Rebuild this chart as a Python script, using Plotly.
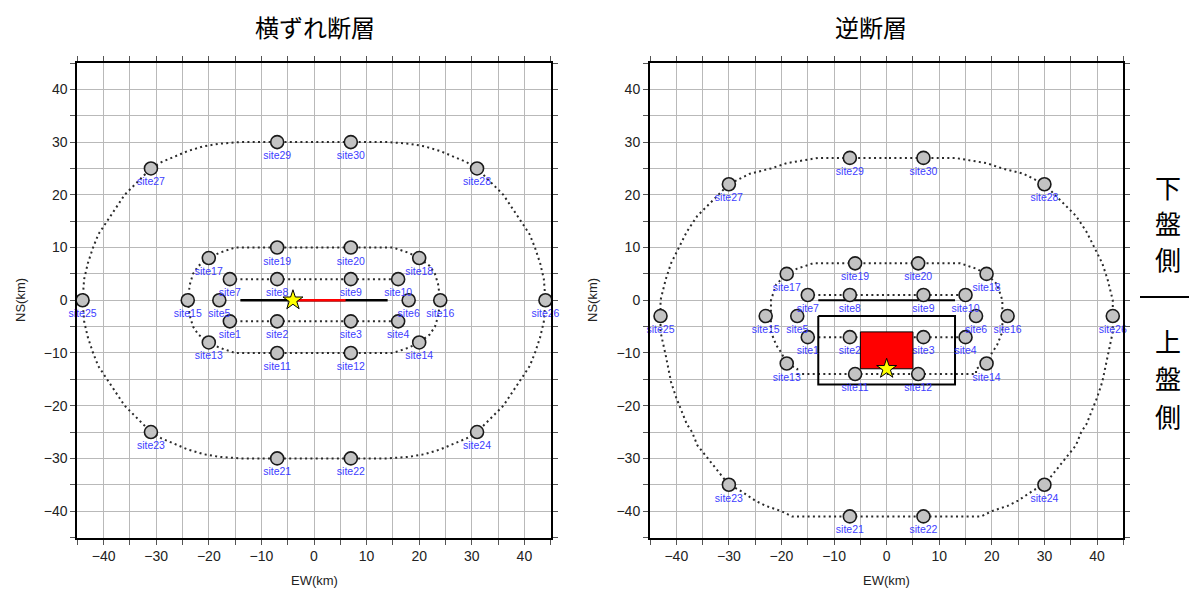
import plotly.graph_objects as go

# page body has an 8px margin, so the figure is drawn 8px smaller and offset
OFF = 8
W, H = 1197 - OFF, 596 - OFF

# ---------------- data ----------------
site_names = [f"site{i}" for i in range(1, 31)]

# strike-slip (横ずれ断層) site coordinates (km)
ss_x = [-16, -7, 7, 16, -18, 18, -16, -7, 7, 16, -7, 7, -20, 20, -24, 24,
        -20, 20, -7, 7, -7, 7, -31, 31, -44, 44, -31, 31, -7, 7]
ss_y = [-4, -4, -4, -4, 0, 0, 4, 4, 4, 4, -10, -10, -8, -8, 0, 0,
        8, 8, 10, 10, -30, -30, -25, -25, 0, 0, 25, 25, 30, 30]

# reverse fault (逆断層) site coordinates (km)
rv_x = [-15, -7, 7, 15, -17, 17, -15, -7, 7, 15, -6, 6, -19, 19, -23, 23,
        -19, 19, -6, 6, -7, 7, -30, 30, -43, 43, -30, 30, -7, 7]
rv_y = [-7, -7, -7, -7, -3, -3, 1, 1, 1, 1, -14, -14, -12, -12, -3, -3,
        5, 5, 7, 7, -41, -41, -35, -35, -3, -3, 22, 22, 27, 27]

# strike-slip fault trace and rupture segment
ss_fault_x = [-14, 14]
ss_fault_y = [0, 0]
ss_rupture_x = [-4, 6]
ss_rupture_y = [0, 0]
ss_epi_x = [-4]
ss_epi_y = [0]

# reverse fault: plane projection, top edge, asperity, hypocentre
rv_plane_x = [-13, 13]
rv_plane_y = [-16, -3]
rv_top_x = [-13, 13]
rv_top_y = [0, 0]
rv_asp_x = [-5, 5]
rv_asp_y = [-13, -6]
rv_epi_x = [0]
rv_epi_y = [-13]

# dotted contours (upper-left quarter)
ss_out_qx = [-44, -43.7, -43, -42, -41, -40, -38, -36, -34, -31, -29, -27, -24, -21, -18, -14, 0]
ss_out_qy = [0, 4, 7, 10, 12.5, 14, 17, 20, 22, 25, 26.2, 27, 28.3, 29.2, 29.7, 30, 30]
ss_mid_qx = [-24, -23.6, -23, -22, -20, -18, -15, 0]
ss_mid_qy = [0, 3, 5, 6.5, 8, 9, 10, 10]
ss_in_x = [-16, 16, None, -16, 16]
ss_in_y = [4, 4, None, -4, -4]

# reverse-fault contours (left half, top centre -> bottom centre)
rv_out_hx = [0, -13, -19, -22, -26, -28, -30, -33, -36, -38, -40, -41, -42, -43, -43, -43,
             -42, -41, -40, -39, -38, -37, -36, -34, -30, -28, -25, -23, -20, -18, -7, 0]
rv_out_hy = [27, 27, 26, 25, 24, 23, 22, 19, 16, 13, 9, 7, 4, 0, -3, -6,
             -10.5, -15.5, -18.5, -21, -23.5, -25, -27.5, -30, -35, -36, -38, -39, -40, -41, -41, -41]
rv_mid_hx = [0, -14, -17, -19, -21, -22, -22, -22, -21, -20, -19, -17, -17, 0]
rv_mid_hy = [7, 7, 6, 5, 3, 0, -3, -6, -8.5, -10, -12, -13, -14, -14]
rv_in_x = [-15, 15, None, -15, 15]
rv_in_y = [1, 1, None, -7, -7]

tick_vals = list(range(-45, 46, 5))
tick_text = [(("\u2212" + str(-v)) if v < 0 else str(v)) if v % 10 == 0 else "" for v in tick_vals]


def full_loop(qx, qy):
    # quarter -> closed loop by mirroring
    upper_x = qx + [-v for v in reversed(qx)]
    upper_y = qy + list(reversed(qy))
    lower_x = list(reversed(upper_x))
    lower_y = [-v for v in reversed(upper_y)]
    return upper_x + lower_x, upper_y + lower_y


def half_loop(hx, hy):
    return hx + [-v for v in reversed(hx)], hy + list(reversed(hy))


def rect(xs, ys):
    return [xs[0], xs[1], xs[1], xs[0], xs[0]], [ys[1], ys[1], ys[0], ys[0], ys[1]]


DOT = dict(color="#2a2a2a", width=2, dash="2px,3.3px")
fig = go.Figure()


def add_dotted(x, y, xa, ya):
    fig.add_trace(go.Scatter(x=x, y=y, mode="lines", line=DOT, xaxis=xa, yaxis=ya,
                             hoverinfo="skip", showlegend=False))


def add_sites(x, y, xa, ya):
    fig.add_trace(go.Scatter(
        x=x, y=y, mode="markers+text", text=site_names, textposition="bottom center",
        textfont=dict(family="Liberation Sans", size=10.5, color="#3d3dff"),
        marker=dict(size=13, color="#c3c3c3", line=dict(color="#1a1a1a", width=1.6)),
        cliponaxis=False,
        xaxis=xa, yaxis=ya, showlegend=False, hoverinfo="skip"))


def add_star(x, y, xa, ya):
    fig.add_trace(go.Scatter(x=x, y=y, mode="markers",
                             marker=dict(symbol="star", size=15, color="#ffff00",
                                         line=dict(color="black", width=1)),
                             xaxis=xa, yaxis=ya, showlegend=False, hoverinfo="skip"))


# ---------- left panel ----------
for qx, qy in [(ss_out_qx, ss_out_qy), (ss_mid_qx, ss_mid_qy)]:
    lx, ly = full_loop(qx, qy)
    add_dotted(lx, ly, "x", "y")
add_dotted(ss_in_x, ss_in_y, "x", "y")
fig.add_trace(go.Scatter(x=ss_fault_x, y=ss_fault_y, mode="lines",
                         line=dict(color="black", width=2.5), xaxis="x", yaxis="y",
                         showlegend=False, hoverinfo="skip"))
fig.add_trace(go.Scatter(x=ss_rupture_x, y=ss_rupture_y, mode="lines",
                         line=dict(color="#ff0000", width=2.5), xaxis="x", yaxis="y",
                         showlegend=False, hoverinfo="skip"))
add_sites(ss_x, ss_y, "x", "y")
add_star(ss_epi_x, ss_epi_y, "x", "y")

# ---------- right panel ----------
for hx, hy in [(rv_out_hx, rv_out_hy), (rv_mid_hx, rv_mid_hy)]:
    lx, ly = half_loop(hx, hy)
    add_dotted(lx, ly, "x2", "y2")
add_dotted(rv_in_x, rv_in_y, "x2", "y2")
px_, py_ = rect(rv_plane_x, rv_plane_y)
fig.add_trace(go.Scatter(x=px_, y=py_, mode="lines", line=dict(color="black", width=2),
                         xaxis="x2", yaxis="y2", showlegend=False, hoverinfo="skip"))
fig.add_trace(go.Scatter(x=rv_top_x, y=rv_top_y, mode="lines", line=dict(color="black", width=2),
                         xaxis="x2", yaxis="y2", showlegend=False, hoverinfo="skip"))
add_sites(rv_x, rv_y, "x2", "y2")
ax_, ay_ = rect(rv_asp_x, rv_asp_y)
fig.add_trace(go.Scatter(x=ax_, y=ay_, mode="lines", fill="toself", fillcolor="#ff0000",
                         line=dict(color="black", width=1), xaxis="x2", yaxis="y2",
                         showlegend=False, hoverinfo="skip"))
add_star(rv_epi_x, rv_epi_y, "x2", "y2")


# ---------- axes ----------
def px_x(p):
    return (p - OFF) / W


def px_y(p):
    return 1 - (p - OFF) / H


ax_common = dict(range=[-45, 45], tickmode="array", tickvals=tick_vals, ticktext=tick_text,
                 showgrid=True, gridcolor="#b9b9b9", gridwidth=1, zeroline=False,
                 showline=True, linecolor="black", linewidth=2, mirror="ticks",
                 ticks="outside", ticklen=5, tickwidth=1, tickcolor="#555",
                 tickfont=dict(family="Liberation Sans", size=14, color="#222"),
                 fixedrange=True)

ydom = [px_y(537.5), px_y(63)]
fig.update_layout(
    width=W, height=H, autosize=False,
    margin=dict(l=0, r=0, t=0, b=0),
    paper_bgcolor="white", plot_bgcolor="white",
    xaxis=dict(domain=[px_x(77.3), px_x(550.7)], anchor="y", **ax_common),
    yaxis=dict(domain=ydom, anchor="x", **ax_common),
    xaxis2=dict(domain=[px_x(650), px_x(1123.3)], anchor="y2", **ax_common),
    yaxis2=dict(domain=ydom, anchor="x2", **ax_common),
    showlegend=False,
)

ann = []
jp = "Noto Sans CJK JP"
ann.append(dict(x=px_x(315), y=px_y(26), text="横ずれ断層", borderpad=0, height=30,
                font=dict(family=jp, size=24, color="black")))
ann.append(dict(x=px_x(871), y=px_y(26), text="逆断層", borderpad=0, height=30,
                font=dict(family=jp, size=24, color="black")))
for cx in [314, 886.6]:
    ann.append(dict(x=px_x(cx), y=px_y(580), text="EW(km)",
                    font=dict(family="Liberation Sans", size=13, color="#222")))
for cx in [20, 592]:
    ann.append(dict(x=px_x(cx), y=px_y(300), text="NS(km)", textangle=-90,
                    font=dict(family="Liberation Sans", size=13, color="#222")))
side_chars = ["下", "盤", "側", "上", "盤", "側"]
side_ys = [186, 222, 259, 340, 377, 415]
for ch, sy in zip(side_chars, side_ys):
    ann.append(dict(x=px_x(1168), y=px_y(sy), text=ch, borderpad=0,
                    font=dict(family=jp, size=26, color="black")))
for a in ann:
    a.update(xref="paper", yref="paper", xanchor="center", yanchor="middle", showarrow=False)
fig.update_layout(annotations=ann)

fig.add_shape(type="line", xref="paper", yref="paper", x0=px_x(1140), x1=1,
              y0=px_y(297), y1=px_y(297), line=dict(color="black", width=2))

fig.write_html("out.html")
